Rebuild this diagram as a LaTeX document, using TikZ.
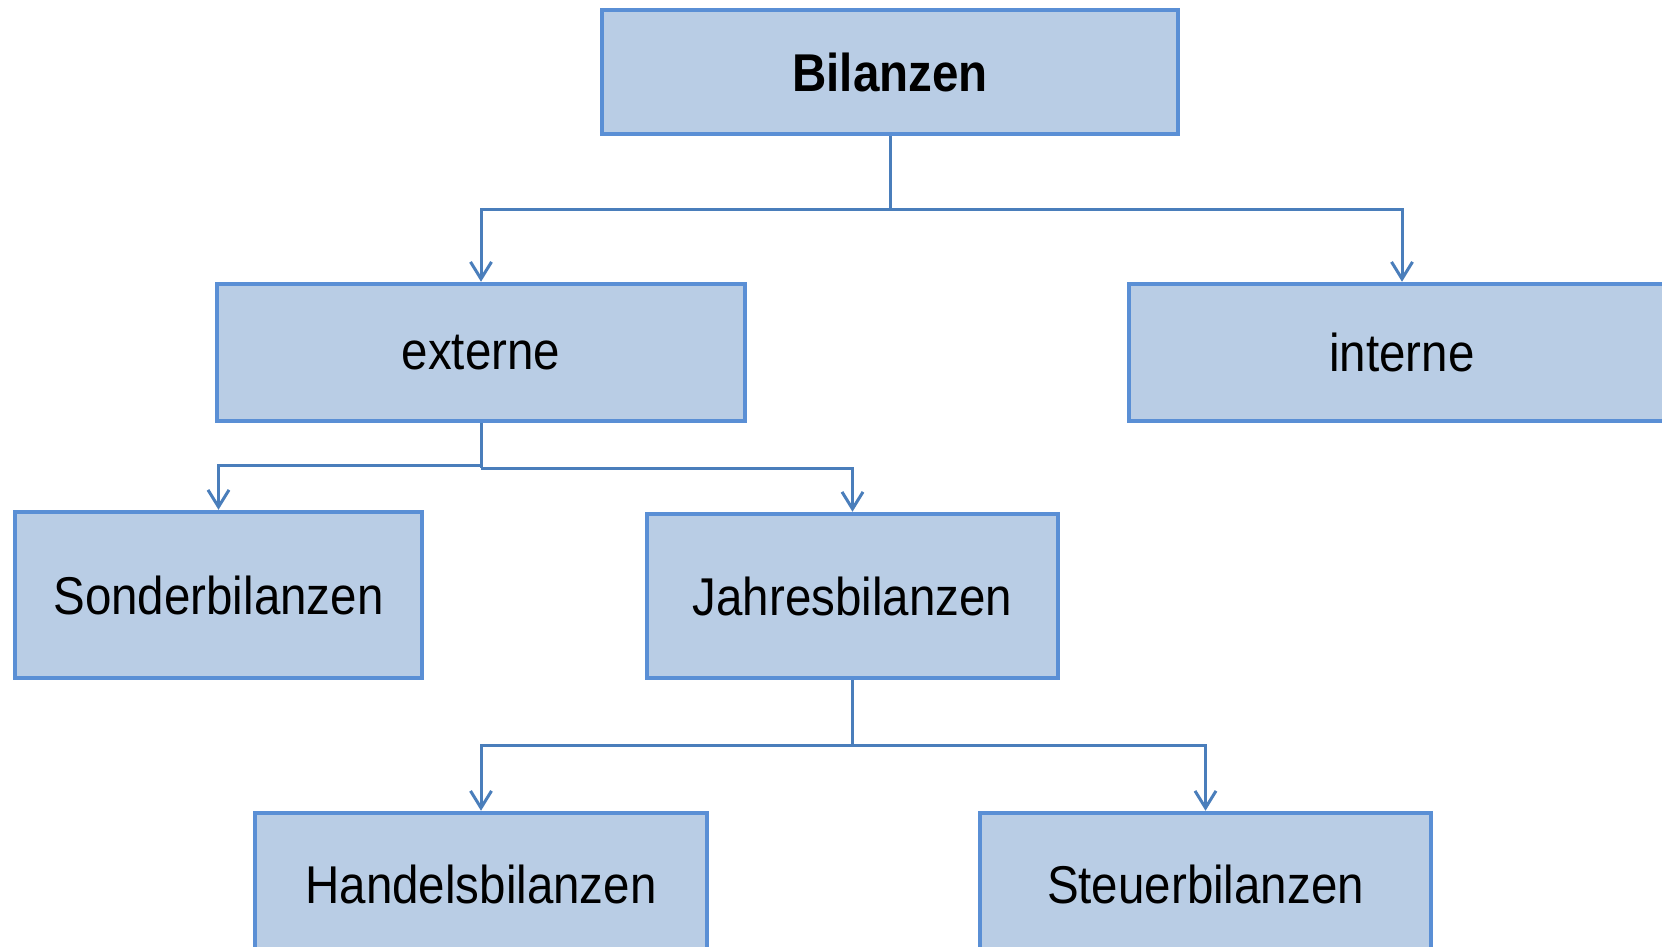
\documentclass[tikz,border=0pt]{standalone}
\usepackage{fontspec}
\setmainfont{Liberation Sans}
\usepackage{graphicx}
\usetikzlibrary{arrows.meta}
\definecolor{boxfill}{HTML}{B9CDE5}
\definecolor{boxline}{HTML}{5A8FD5}
\definecolor{linkline}{HTML}{4A7EBB}
\newcommand{\lbl}[1]{\scalebox{1}[1.12]{#1}}
\tikzset{
  level/.style={draw=boxline, fill=boxfill, line width=4.5pt, inner sep=0pt,
    font=\fontsize{47.5}{57}\selectfont, text=black},
  link/.style={draw=linkline, line width=3pt},
  arr/.style={link, -{Straight Barb[length=17pt,width=21pt,line width=3pt]}},
}
\begin{document}
\begin{tikzpicture}[x=1pt,y=-1pt]
  \clip (0,0) rectangle (1662,947);
  \fill[white] (0,0) rectangle (1662,947);

  % tree levels
  \node[level, minimum width=576pt, minimum height=124pt] (top) at (890,72)
    {\lbl{\bfseries Bilanzen}};
  \node[level, minimum width=528pt, minimum height=137pt] (ext) at (481,352.5)
    {\lbl{externe}};
  \node[level, minimum width=546pt, minimum height=137pt] (int) at (1402,352.5)
    {\lbl{interne}};
  \node[level, minimum width=407pt, minimum height=166pt] (son) at (218.5,595)
    {\lbl{Sonderbilanzen}};
  \node[level, minimum width=411pt, minimum height=164pt] (jah) at (852.5,596)
    {\lbl{Jahresbilanzen}};
  \node[level, minimum width=452pt, minimum height=142pt] (han) at (481,884)
    {\lbl{Handelsbilanzen}};
  \node[level, minimum width=451pt, minimum height=142pt] (ste) at (1205.5,884)
    {\lbl{Steuerbilanzen}};

  % branch points
  \coordinate (b1) at (890,209);
  \coordinate (b2l) at (481,465);
  \coordinate (b2r) at (481,468);
  \coordinate (b3) at (852.5,745);

  % connectors
  \draw[link] (top.south) -- (b1);
  \draw[arr] (b1) -| (ext.north);
  \draw[arr] (b1) -| (int.north);

  \draw[link] (ext.south) -- (b2r);
  \draw[arr] (b2l) -| (son.north);
  \draw[arr] (b2r) -| (jah.north);

  \draw[link] (jah.south) -- (b3);
  \draw[arr] (b3) -| (han.north);
  \draw[arr] (b3) -| (ste.north);
\end{tikzpicture}
\end{document}
